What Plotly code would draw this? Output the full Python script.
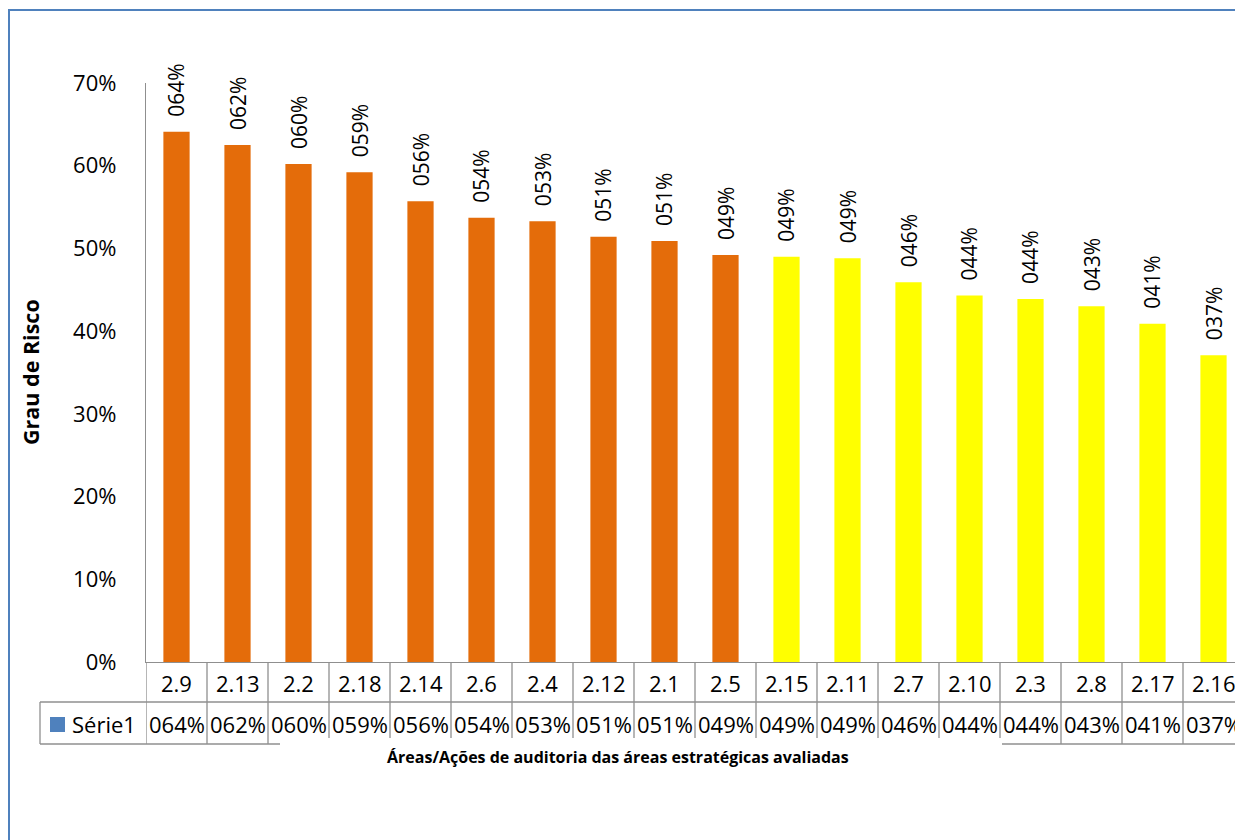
import plotly.graph_objects as go

categories = ["2.9", "2.13", "2.2", "2.18", "2.14", "2.6", "2.4", "2.12", "2.1",
              "2.5", "2.15", "2.11", "2.7", "2.10", "2.3", "2.8", "2.17", "2.16"]
values = [0.641, 0.625, 0.602, 0.592, 0.557, 0.537, 0.533, 0.514, 0.509,
          0.492, 0.490, 0.488, 0.459, 0.443, 0.439, 0.430, 0.409, 0.371]
value_labels = ["064%", "062%", "060%", "059%", "056%", "054%", "053%", "051%", "051%",
                "049%", "049%", "049%", "046%", "044%", "044%", "043%", "041%", "037%"]
bar_colors = ["#E46C0A"] * 10 + ["#FFFF00"] * 8
series_name = "Série1"
y_ticks = [0, 0.1, 0.2, 0.3, 0.4, 0.5, 0.6, 0.7]
y_title = "Grau de Risco"
x_title = "Áreas/Ações de auditoria das áreas estratégicas avaliadas"

W, H = 1235, 840
L, T, B = 146, 83, 662
PW, PH = W - L, B - T
CELL = 61.0
FONT = "Open Sans"
GRID = "#8F8F8F"


def py(p):  # pixel y -> paper y
    return (B - p) / PH


def px(p):  # pixel x -> paper x
    return (p - L) / PW


n = len(categories)
fig = go.Figure()
fig.add_trace(go.Bar(
    x=list(range(n)), y=values, marker=dict(color=bar_colors, line=dict(width=0)),
    width=0.43, hoverinfo="skip", showlegend=False))

shapes = []
annotations = []

# bar value labels
for i, (v, lab) in enumerate(zip(values, value_labels)):
    annotations.append(dict(x=i, y=v, xref="x", yref="y", text=lab, showarrow=False,
                            textangle=-90, yanchor="bottom", xanchor="center", yshift=13,
                            font=dict(family=FONT, size=21, color="#000")))

# data table
row1_bot, row2_bot, row2_short = 702, 744, 738
for k in range(n + 1):
    xb = k - 0.5
    pxb = L + k * CELL
    full = pxb <= 280 or pxb >= 1002
    shapes.append(dict(type="line", xref="x", yref="paper", x0=xb, x1=xb,
                       y0=py(B), y1=py(row2_bot if full else row2_short),
                       line=dict(color=GRID, width=1.3)))
for i, (c, lab) in enumerate(zip(categories, value_labels)):
    annotations.append(dict(x=i, y=py(683), xref="x", yref="paper", text=c, showarrow=False,
                            xanchor="center", yanchor="middle",
                            font=dict(family=FONT, size=22, color="#000")))
    annotations.append(dict(x=i, y=py(724), xref="x", yref="paper", text=lab, showarrow=False,
                            xanchor="center", yanchor="middle",
                            font=dict(family=FONT, size=22, color="#000")))
# horizontal table lines
shapes.append(dict(type="line", xref="paper", yref="paper", x0=px(40), x1=px(1260),
                   y0=py(row1_bot), y1=py(row1_bot), line=dict(color=GRID, width=1.3)))
shapes.append(dict(type="line", xref="paper", yref="paper", x0=px(40), x1=px(280),
                   y0=py(row2_bot), y1=py(row2_bot), line=dict(color=GRID, width=1.3)))
shapes.append(dict(type="line", xref="paper", yref="paper", x0=px(1002), x1=px(1260),
                   y0=py(row2_bot), y1=py(row2_bot), line=dict(color=GRID, width=1.3)))
shapes.append(dict(type="line", xref="paper", yref="paper", x0=px(40), x1=px(40),
                   y0=py(row1_bot), y1=py(row2_bot), line=dict(color=GRID, width=1.3)))
# legend key
shapes.append(dict(type="rect", xref="paper", yref="paper", x0=px(50), x1=px(65),
                   y0=py(732), y1=py(717), fillcolor="#4F81BD", line=dict(width=0)))
annotations.append(dict(x=px(70), y=py(724), xref="paper", yref="paper", text=series_name,
                        showarrow=False, xanchor="left", yanchor="middle",
                        font=dict(family=FONT, size=22, color="#000")))

# axis titles
annotations.append(dict(x=px(30), y=py(372), xref="paper", yref="paper", text="<b>" + y_title + "</b>",
                        showarrow=False, textangle=-90, xanchor="center", yanchor="middle",
                        font=dict(family=FONT, size=21.5, color="#000")))
annotations.append(dict(x=px(618), y=py(757), xref="paper", yref="paper", text="<b>" + x_title + "</b>",
                        showarrow=False, xanchor="center", yanchor="middle",
                        font=dict(family=FONT, size=16, color="#000")))

# outer chart border
shapes.append(dict(type="rect", xref="paper", yref="paper", x0=px(9), x1=px(1260),
                   y0=py(860), y1=py(10), line=dict(color="#4F81BD", width=2),
                   fillcolor="rgba(0,0,0,0)", layer="above"))

fig.update_layout(
    width=W, height=H, margin=dict(l=L, r=0, t=T, b=H - B, pad=0),
    paper_bgcolor="white", plot_bgcolor="white",
    shapes=shapes, annotations=annotations, bargap=0.57,
    xaxis=dict(range=[-0.5, -0.5 + PW / CELL], showticklabels=False, ticks="",
               showgrid=False, zeroline=False, showline=True, linecolor=GRID, linewidth=1.3,
               fixedrange=True),
    yaxis=dict(range=[0, 0.7], tickvals=y_ticks, tickformat=".0%", showgrid=False,
               zeroline=False, showline=True, linecolor=GRID, linewidth=1.3,
               ticks="", ticklabelstandoff=24,
               tickfont=dict(family=FONT, size=22, color="#000"), fixedrange=True),
)
fig.write_html("out.html", config={"displayModeBar": False},
               post_script="document.body.style.margin='0';document.body.style.overflow='hidden';")
